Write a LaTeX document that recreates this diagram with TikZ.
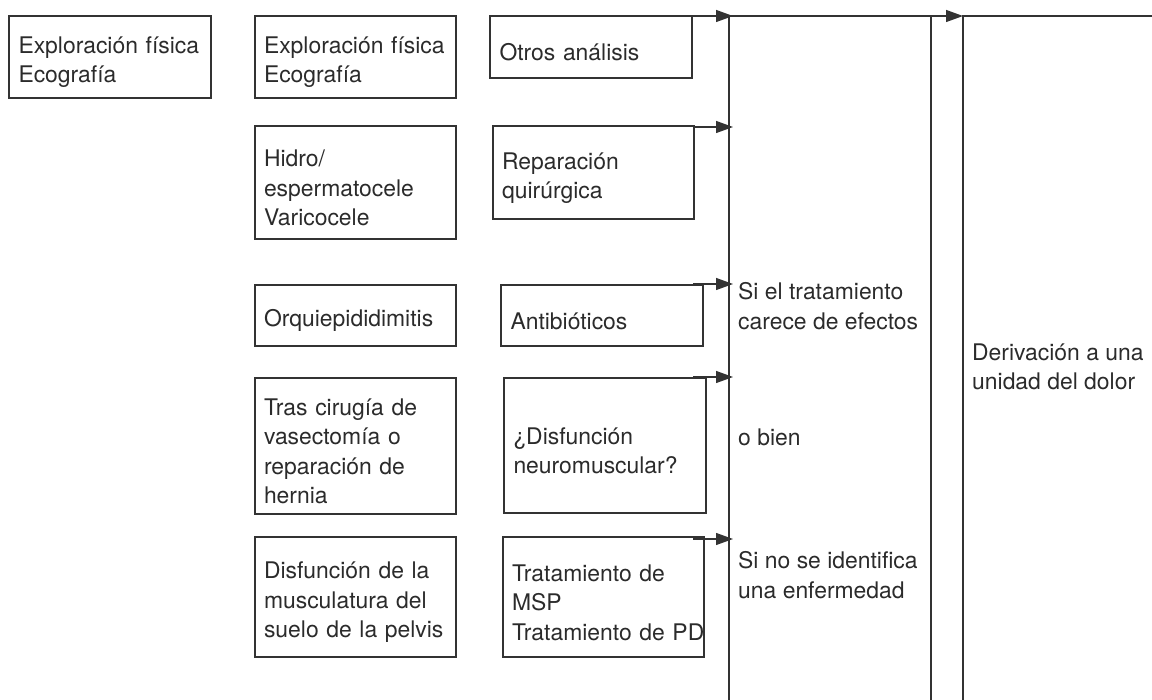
\documentclass[tikz,border=0pt]{standalone}
\usepackage{fontspec}
\setmainfont{TeX Gyre Heros}
\usetikzlibrary{arrows.meta,calc}
\definecolor{ink}{HTML}{2B2B2B}
\definecolor{linec}{HTML}{333333}
\tikzset{
  box/.style n args={2}{draw=linec, line width=1.3pt, rectangle, anchor=north west,
    inner xsep=9pt, inner ysep=0pt, outer sep=0pt, align=left, text width=183pt,
    minimum width=#1pt, minimum height=#2pt, text=ink,
    execute at begin node={\rule{0pt}{27.5pt}}},
  lbl/.style={anchor=north west, inner sep=0pt, align=left, text=ink},
  frame/.style={draw=linec, line width=1.3pt},
  arr/.style={draw=linec, line width=1.3pt, -{Triangle[length=17pt,width=12pt]}},
}
\begin{document}
\begin{tikzpicture}[x=1pt,y=-1pt,font=\fontsize{22.9}{29.5}\selectfont]
\useasboundingbox (0,0) rectangle (1152,700);
% boxes
\node[box={202}{82}]  (b1)  at (9,16)   {Exploración física\\Ecografía};
\node[box={201}{82}]  (b2)  at (255,16) {Exploración física\\Ecografía};
\node[box={202}{62}]  (b3)  at (490,16) {Otros análisis};
\node[box={201}{113}] (b4)  at (255,126) {Hidro/\\espermatocele\\Varicocele};
\node[box={201}{93}]  (b5)  at (493,126) {Reparación\\quirúrgica};
\node[box={201}{61}]  (b6)  at (255,285) {Orquiepididimitis};
\node[box={202}{61}]  (b7)  at (501,285) {Antibióticos};
\node[box={201}{136}] (b8)  at (255,378) {Tras cirugía de\\vasectomía o\\reparación de\\hernia};
\node[box={202}{135}] (b9)  at (504,378) {¿Disfunción\\neuromuscular?};
\node[box={201}{120}] (b10) at (255,537) {Disfunción de la\\musculatura del\\suelo de la pelvis};
\node[box={201}{120}] (b11) at (503,537) {Tratamiento de\\MSP\\\mbox{Tratamiento de PD}};
% frames
\coordinate (as)    at (693,0);
\coordinate (f1top) at (729,16);
\coordinate (f1bot) at (729,700);
\coordinate (f1rtop) at (931,16);
\coordinate (f1rbot) at (931,700);
\coordinate (f2top) at (963,16);
\coordinate (f2bot) at (963,700);
\coordinate (f2end) at (1152,16);
\draw[frame] (f1bot) -- (f1top) -- (f1rtop) -- (f1rbot);
\draw[frame] (f2bot) -- (f2top) -- (f2end);
\draw[arr] (f1rtop) -- (f2top);
% arrows from boxes
\draw[arr] (b3.north -| as) -- ($(b3.north -| f1top)+(4,0)$);
\draw[arr] ($(b5.north -| as)+(0,1)$) -- ($(b5.north -| f1top)+(4,1)$);
\draw[arr] ($(b7.north -| as)+(0,-1)$) -- ($(b7.north -| f1top)+(4,-1)$);
\draw[arr] ($(b9.north -| as)+(0,-1)$) -- ($(b9.north -| f1top)+(4,-1)$);
\draw[arr] ($(b11.north -| as)+(0,2)$) -- ($(b11.north -| f1top)+(4,2)$);
% labels
\node[lbl] (t1) at (738,282.5) {Si el tratamiento\\carece de efectos};
\node[lbl] (t2) at (738,429)   {o bien};
\node[lbl] (t3) at (738,551.5) {Si no se identifica\\una enfermedad};
\node[lbl] (t4) at (972,343.5) {Derivación a una\\unidad del dolor};
\end{tikzpicture}
\end{document}
